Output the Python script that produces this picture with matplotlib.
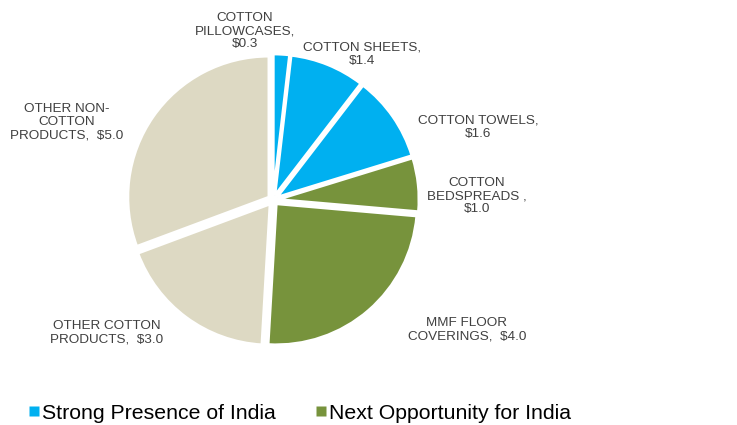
import matplotlib
matplotlib.use("Agg")
from matplotlib import pyplot as plt
from matplotlib.lines import Line2D

plt.rcParams['font.family'] = ['Liberation Sans', 'DejaVu Sans']

# data
categories = ["COTTON\nPILLOWCASES,", "COTTON SHEETS,", "COTTON TOWELS,", "COTTON\nBEDSPREADS ,",
              "MMF FLOOR\nCOVERINGS,  ", "OTHER COTTON\nPRODUCTS,  ", "OTHER NON-\nCOTTON\nPRODUCTS,  "]
values = [0.3, 1.4, 1.6, 1.0, 4.0, 3.0, 5.0]
groups = ["strong", "strong", "strong", "next", "next", "other", "other"]
legend_labels = ["Strong Presence of India", "Next Opportunity for India"]

colors = {"strong": "#00B0F0", "next": "#77933C", "other": "#DDD9C3"}
sep = ["\n", "\n", "\n", "\n", "", "", ""]

# label positions in pixels (x, y from top)
label_pos = [(245, 31), (362, 54), (478, 127), (477, 196), (467, 330), (107, 333), (67, 122)]

W, H = 737, 425
fig = plt.figure(figsize=(W / 100, H / 100), dpi=100)
ax = fig.add_axes([0, 0, 1, 1])

# explode is in data (pixel) units here, not a fraction of the radius
cx, cy, r, gap = 273, H - 200, 141, 5
ax.pie(values, colors=[colors[g] for g in groups], startangle=90, counterclock=False,
       center=(cx, cy), radius=r, explode=[gap] * len(values),
       wedgeprops=dict(edgecolor='white', linewidth=2), frame=True)
ax.set_xlim(0, W)
ax.set_ylim(0, H)
ax.set_aspect('equal')
ax.axis('off')

for name, val, s, (x, y) in zip(categories, values, sep, label_pos):
    ax.text(x, H - y, f"{name}{s}${val:.1f}", ha='center', va='center', fontsize=9.7,
            color='#404040', linespacing=1.15)

handles = [Line2D([], [], marker='s', linestyle='none', markersize=7,
                  markerfacecolor=colors[g], markeredgecolor='none') for g in ["strong", "next"]]
fig.legend(handles, legend_labels, loc='lower left', bbox_to_anchor=(0.01, -0.04), ncol=2,
           frameon=False, fontsize=15.3, handletextpad=0.05, columnspacing=1.75, handlelength=0.7)

fig.savefig("out.png", dpi=100)
